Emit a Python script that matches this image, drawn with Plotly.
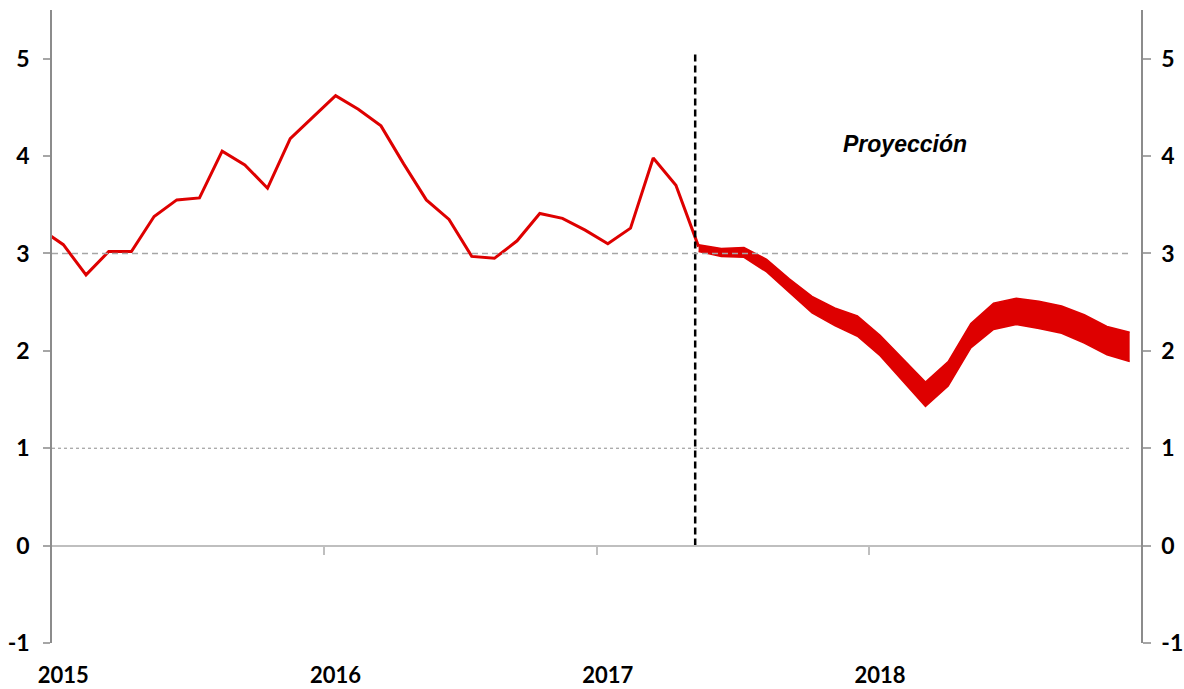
import plotly.graph_objects as go

# monthly series, x = months since Jan 2015 (centre of each month = index + 0.5)
hist_start = -1  # Dec 2014
hist_values = [3.25, 3.09, 2.78, 3.02, 3.02, 3.38, 3.55, 3.57, 4.05, 3.91, 3.67, 4.18, 4.40,
               4.62, 4.48, 4.31, 3.92, 3.55, 3.35, 2.97, 2.95, 3.13, 3.41, 3.36, 3.24,
               3.10, 3.26, 3.98, 3.70, 3.07]

proj_start = 28  # May 2017
proj_upper = [3.09, 3.05, 3.06, 2.94, 2.74, 2.56, 2.44, 2.36, 2.16, 1.92,
              1.68, 1.89, 2.28, 2.49, 2.54, 2.51, 2.46, 2.37, 2.25, 2.19]
proj_lower = [3.02, 2.97, 2.96, 2.81, 2.60, 2.39, 2.26, 2.15, 1.95, 1.69,
              1.43, 1.64, 2.03, 2.22, 2.27, 2.23, 2.18, 2.08, 1.96, 1.89]

years = ["2015", "2016", "2017", "2018"]
y_ticks = [-1, 0, 1, 2, 3, 4, 5]
y_labels = ["-1", "0", "1", "2", "3", "4", "5"]
projection_marker = 28.35  # position of the dashed separator (months)
marker_top = 5.08
target_line = 3
lower_line = 1

RED = "#de0000"

hist_x = [hist_start + i + 0.5 for i in range(len(hist_values))]
proj_x = [proj_start + i + 0.5 for i in range(len(proj_upper))]
n_months = 12 * len(years)
span_x = [0, proj_x[-1]]

fig = go.Figure()

# reference lines (on the overlay axes so both right/bottom axes get drawn)
fig.add_trace(go.Scatter(x=span_x, y=[target_line] * 2, mode="lines", xaxis="x2", yaxis="y2",
                         line=dict(color="#a6a6a6", width=1.5, dash="6px,4px"), hoverinfo="skip"))
fig.add_trace(go.Scatter(x=span_x, y=[lower_line] * 2, mode="lines", xaxis="x2", yaxis="y2",
                         line=dict(color="#8c8c8c", width=1, dash="dot"), hoverinfo="skip"))

# projection band
fig.add_trace(go.Scatter(x=proj_x, y=proj_lower, mode="lines",
                         line=dict(color=RED, width=1.5)))
fig.add_trace(go.Scatter(x=proj_x, y=proj_upper, mode="lines", fill="tonexty",
                         fillcolor=RED, line=dict(color=RED, width=1.5)))

# history
fig.add_trace(go.Scatter(x=hist_x, y=hist_values, mode="lines",
                         line=dict(color=RED, width=3)))

# separator
fig.add_trace(go.Scatter(x=[projection_marker] * 2, y=[0, marker_top], mode="lines",
                         line=dict(color="black", width=2.5, dash="7px,4px")))

fig.add_annotation(x=37.6, y=4.12, text="<b><i>Proyección</i></b>", showarrow=False,
                   font=dict(family="Liberation Sans, Arial", size=23, color="black"))

tick_font = dict(family="Lato, Calibri, sans-serif", size=23, color="black", weight="bold")

fig.update_layout(
    width=1184, height=689,
    margin=dict(l=52, r=43, t=10, b=46),
    paper_bgcolor="white", plot_bgcolor="white",
    showlegend=False,
    xaxis=dict(range=[0, n_months], anchor="free", position=1 / 6.5, automargin=False,
               showgrid=False, zeroline=False, showticklabels=False,
               showline=True, linecolor="#bfbfbf", linewidth=2,
               tickmode="array", tickvals=[12, 24, 36], ticks="outside",
               ticklen=8, tickwidth=2, tickcolor="#bfbfbf"),
    xaxis2=dict(range=[0, n_months], overlaying="x", anchor="y2", side="bottom", automargin=False,
                showgrid=False, zeroline=False, showline=False, ticks="",
                tickmode="array", tickvals=[12 * i + 0.5 for i in range(len(years))],
                ticktext=years, ticklabelstandoff=17,
                tickfont=dict(family="Lato, Calibri, sans-serif", size=22, color="black", weight="bold")),
    yaxis=dict(range=[-1, 5.5], showgrid=False, zeroline=False, automargin=False,
               showline=True, linecolor="#8c8c8c", linewidth=1.5,
               tickmode="array", tickvals=y_ticks, ticktext=y_labels, ticks="outside", ticklen=7,
               tickwidth=1.5, tickcolor="#a6a6a6", ticklabelstandoff=9, tickfont=tick_font),
    yaxis2=dict(range=[-1, 5.5], overlaying="y", anchor="x2", side="right", automargin=False,
                showgrid=False, zeroline=False,
                showline=True, linecolor="#8c8c8c", linewidth=1.5,
                tickmode="array", tickvals=y_ticks, ticktext=y_labels, ticks="outside", ticklen=8,
                tickwidth=1.5, tickcolor="#a6a6a6", ticklabelstandoff=6, tickfont=tick_font),
)

# drop the default body margin so the 1184x689 figure fills the window exactly
fig.write_html("out.html", config={"displayModeBar": False},
               post_script="document.body.style.margin='0';")
